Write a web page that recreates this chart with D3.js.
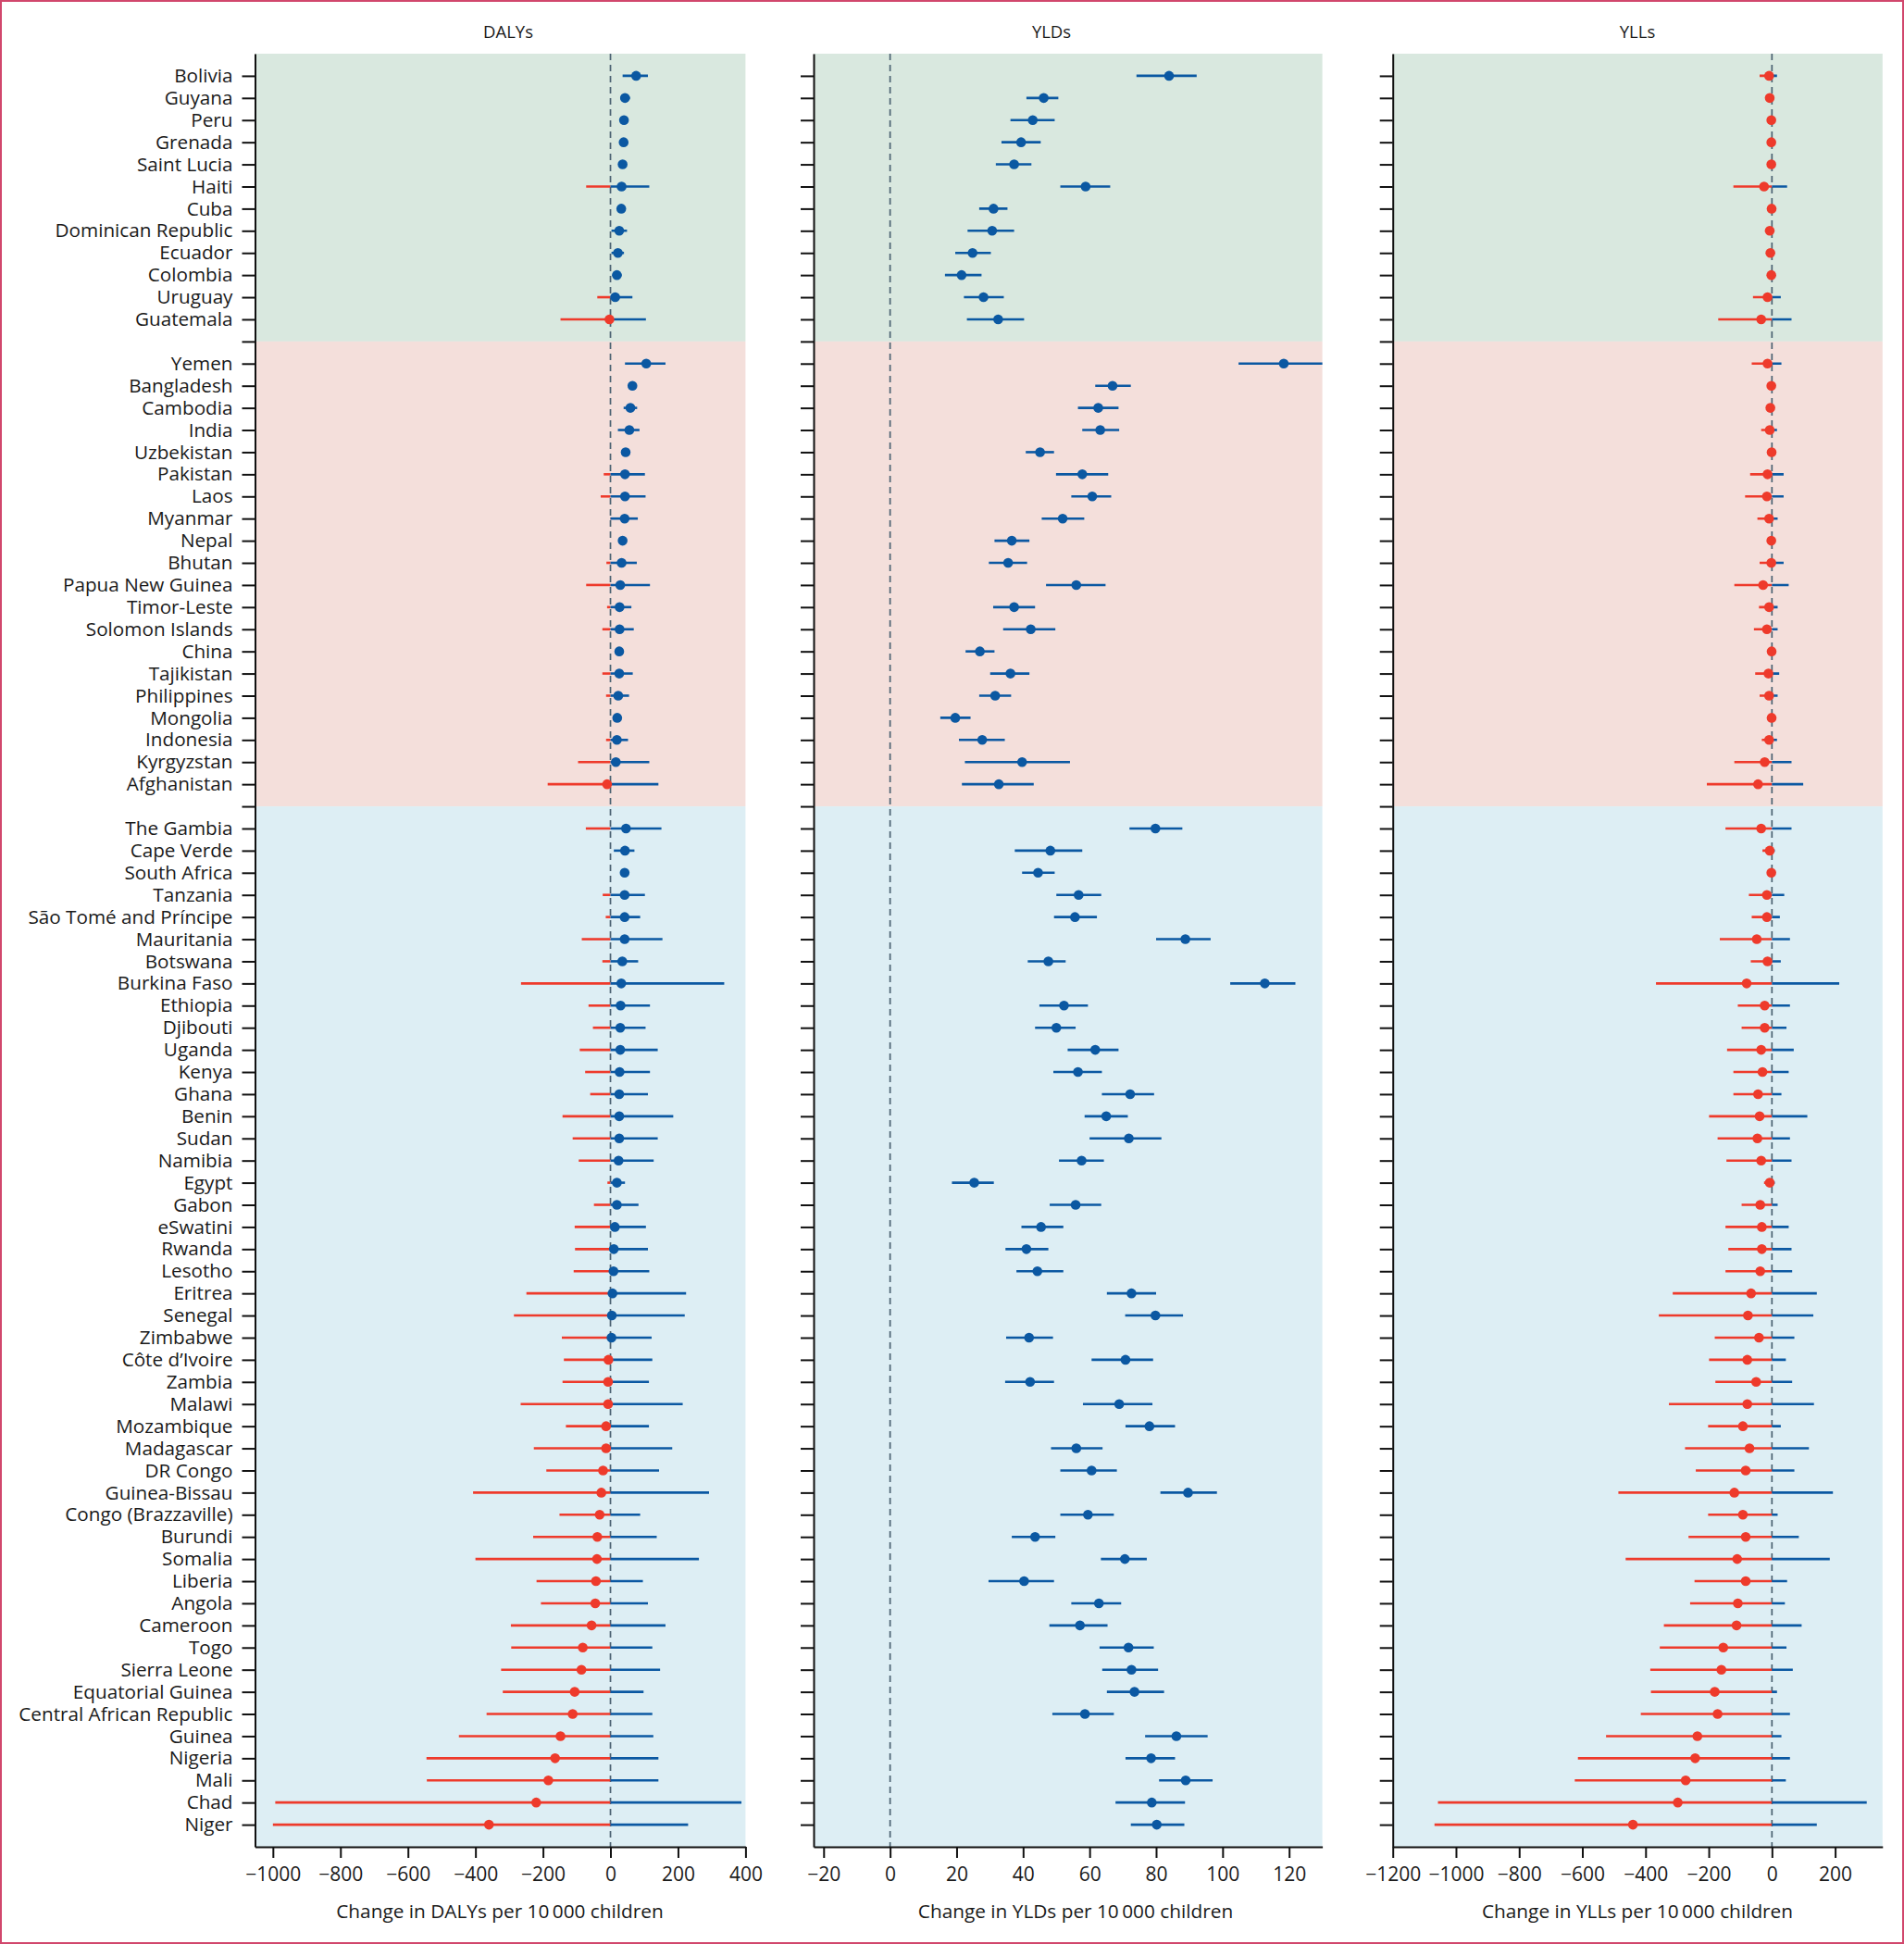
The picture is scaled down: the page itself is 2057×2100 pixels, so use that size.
<!DOCTYPE html>
<html>
<head>
<meta charset="utf-8">
<script src="https://cdnjs.cloudflare.com/ajax/libs/d3/7.8.5/d3.min.js"></script>
<style>
    body { margin: 0; background: #fff; }
    svg text { font-family: "Open Sans", sans-serif; fill: #1a1a1a; }
    .axis path, .axis line { stroke: #111; stroke-width: 2; }
    .axis text { font-size: 21px; }
    .y.axis text { font-size: 20.7px; }
</style>
</head>
<body>
<div id="chart"></div>
<script>
// Country groups, top to bottom
var latinAmerica = ["Bolivia", "Guyana", "Peru", "Grenada", "Saint Lucia", "Haiti", "Cuba",
    "Dominican Republic", "Ecuador", "Colombia", "Uruguay", "Guatemala"];
var asia = ["Yemen", "Bangladesh", "Cambodia", "India", "Uzbekistan", "Pakistan", "Laos", "Myanmar",
    "Nepal", "Bhutan", "Papua New Guinea", "Timor-Leste", "Solomon Islands", "China", "Tajikistan",
    "Philippines", "Mongolia", "Indonesia", "Kyrgyzstan", "Afghanistan"];
var africa = ["The Gambia", "Cape Verde", "South Africa", "Tanzania", "São Tomé and Príncipe",
    "Mauritania", "Botswana", "Burkina Faso", "Ethiopia", "Djibouti", "Uganda", "Kenya", "Ghana",
    "Benin", "Sudan", "Namibia", "Egypt", "Gabon", "eSwatini", "Rwanda", "Lesotho", "Eritrea",
    "Senegal", "Zimbabwe", "Côte d’Ivoire", "Zambia", "Malawi", "Mozambique", "Madagascar",
    "DR Congo", "Guinea-Bissau", "Congo (Brazzaville)", "Burundi", "Somalia", "Liberia", "Angola",
    "Cameroon", "Togo", "Sierra Leone", "Equatorial Guinea", "Central African Republic", "Guinea",
    "Nigeria", "Mali", "Chad", "Niger"];

// [estimate, lower, upper] per country, same order as above
var dalys = [
    [76, 36, 111], [43, 29, 58], [40, 32, 52], [39, 30, 49], [36, 27, 46], [33, -72, 115],
    [32, 23, 42], [26, 3, 49], [22, 3, 40], [19, 6, 33], [14, -39, 65], [-3, -148, 105],
    [106, 43, 163], [65, 55, 75], [59, 39, 79], [56, 22, 86], [45, 35, 55], [43, -20, 102],
    [43, -29, 104], [42, -1, 81], [36, 24, 47], [33, -12, 78], [29, -72, 117], [27, -10, 62],
    [27, -24, 69], [26, 16, 36], [26, -24, 66], [23, -13, 55], [20, 10, 30], [19, -13, 52],
    [16, -96, 115], [-10, -186, 142],
    [46, -73, 151], [43, 10, 71], [42, 32, 53], [42, -23, 102], [42, -14, 88], [42, -85, 154],
    [35, -24, 82], [32, -265, 337], [30, -65, 117], [29, -52, 104], [29, -91, 140], [27, -75, 117],
    [26, -60, 111], [26, -142, 186], [26, -112, 140], [24, -94, 128], [19, -9, 43], [19, -49, 83],
    [13, -106, 105], [10, -105, 111], [9, -109, 115], [6, -249, 224], [4, -286, 220],
    [3, -144, 122], [-6, -138, 124], [-7, -142, 114], [-7, -266, 214], [-13, -132, 114],
    [-13, -227, 183], [-22, -190, 144], [-27, -407, 292], [-32, -151, 88], [-39, -229, 137],
    [-40, -400, 262], [-43, -219, 96], [-45, -206, 111], [-56, -295, 163], [-82, -294, 124],
    [-86, -324, 147], [-106, -319, 98], [-112, -367, 124], [-148, -449, 127], [-164, -545, 142],
    [-184, -544, 142], [-220, -993, 388], [-360, -1000, 230]
];
var ylds = [
    [83.9, 74.1, 92.2], [46.2, 41.0, 50.6], [42.9, 36.2, 49.5], [39.4, 33.5, 45.3],
    [37.3, 31.8, 42.5], [58.8, 51.2, 66.2], [31.1, 26.8, 35.3], [30.7, 23.3, 37.3],
    [24.8, 19.6, 30.3], [21.5, 16.5, 27.5], [28.1, 22.2, 34.2], [32.5, 23.1, 40.3],
    [118.4, 104.8, 136], [66.9, 61.7, 72.4], [62.6, 56.5, 68.7], [63.2, 57.8, 68.9],
    [45.1, 40.8, 49.3], [57.8, 49.9, 65.6], [60.8, 54.5, 66.5], [51.9, 45.6, 58.4],
    [36.6, 31.4, 41.9], [35.5, 29.7, 41.2], [56.0, 46.9, 64.8], [37.3, 31.0, 43.6],
    [42.3, 34.0, 49.7], [27.0, 22.7, 31.4], [36.2, 30.1, 41.9], [31.6, 26.8, 36.4],
    [19.6, 15.1, 24.2], [27.7, 20.7, 34.5], [39.7, 22.5, 54.1], [32.7, 21.6, 43.2],
    [79.8, 72.0, 87.9], [48.2, 37.5, 57.8], [44.5, 39.7, 49.5], [56.7, 50.0, 63.5],
    [55.6, 49.3, 62.2], [88.8, 80.0, 96.4], [47.6, 41.4, 52.8], [112.7, 102.3, 121.9],
    [52.3, 44.9, 59.5], [50.0, 43.6, 55.8], [61.7, 53.4, 68.7], [56.5, 49.1, 63.7],
    [72.2, 63.7, 79.4], [65.0, 58.5, 71.5], [71.8, 60.0, 81.6], [57.6, 50.8, 64.3],
    [25.3, 18.6, 31.2], [55.8, 48.0, 63.5], [45.4, 39.5, 52.1], [41.0, 34.7, 47.6],
    [44.3, 38.0, 52.1], [72.6, 65.2, 80.0], [79.8, 70.7, 88.1],
    [41.8, 34.9, 49.0], [70.8, 60.6, 79.1], [42.1, 34.6, 49.3], [68.9, 58.0, 78.9],
    [78.0, 70.8, 85.7], [56.0, 48.4, 63.9], [60.6, 51.2, 68.2], [89.6, 81.3, 98.3],
    [59.5, 51.2, 67.3], [43.6, 36.6, 49.7], [70.6, 63.4, 77.2], [40.3, 29.6, 49.3],
    [62.8, 54.5, 69.5], [57.1, 47.9, 65.4], [71.7, 63.0, 79.3], [72.6, 63.8, 80.6],
    [73.5, 65.2, 82.4], [58.6, 48.8, 67.3], [86.1, 76.7, 95.5], [78.5, 70.8, 85.7],
    [88.9, 80.9, 97.0], [78.7, 67.8, 88.7], [80.2, 72.4, 88.5]
];
var ylls = [
    [-9, -39, 16], [-7, -18, 5], [-2, -8, 3], [-2, -7, 2], [-2, -7, 2], [-25, -122, 48],
    [-1, -5, 3], [-7, -21, 5], [-5, -16, 7], [-2, -7, 2], [-14, -60, 28], [-34, -170, 62],
    [-14, -64, 30], [-2, -7, 2], [-5, -16, 7], [-7, -34, 16], [-1, -4, 3], [-14, -69, 37],
    [-16, -85, 37], [-9, -46, 18], [-2, -6, 2], [-2, -39, 37], [-28, -119, 53], [-9, -41, 18],
    [-16, -57, 18], [-1, -4, 2], [-11, -53, 23], [-9, -39, 18], [-1, -4, 2], [-9, -32, 16],
    [-23, -119, 62], [-44, -206, 99],
    [-34, -147, 62], [-7, -30, 9], [-2, -6, 2], [-16, -73, 39], [-16, -64, 25], [-48, -165, 57],
    [-14, -67, 28], [-80, -367, 213], [-23, -108, 57], [-23, -96, 46], [-34, -142, 69],
    [-30, -122, 53], [-44, -122, 30], [-39, -199, 112], [-46, -172, 57], [-34, -144, 62],
    [-7, -25, 9], [-37, -96, 18], [-32, -147, 53], [-32, -138, 62], [-37, -147, 64],
    [-66, -314, 142], [-76, -358, 131],
    [-41, -181, 71], [-78, -199, 44], [-50, -179, 64], [-78, -326, 133], [-92, -202, 28],
    [-71, -275, 117], [-83, -241, 71], [-119, -486, 193], [-92, -202, 18], [-83, -264, 85],
    [-110, -463, 183], [-83, -245, 48], [-108, -259, 41], [-112, -342, 94], [-154, -355, 46],
    [-160, -385, 66], [-181, -383, 16], [-172, -415, 57], [-236, -525, 30], [-243, -614, 57],
    [-273, -624, 44], [-298, -1057, 300], [-440, -1068, 142]
];

var dalyTicks = [-1000, -800, -600, -400, -200, 0, 200, 400];
var yldTicks = [-20, 0, 20, 40, 60, 80, 100, 120];
var yllTicks = [-1200, -1000, -800, -600, -400, -200, 0, 200];

var countries = latinAmerica.concat(asia, africa);
var slots = latinAmerica.concat(["gap1"], asia, ["gap2"], africa);

var blue = "#0b58a2", red = "#ee3a2b";
var plotTop = 58, plotBottom = 1995;

var panels = [
    {title: "DALYs", data: dalys, domain: [-1053, 400], range: [275.5, 805.4], ticks: dalyTicks,
     titleX: 549, labelX: 540, label: "Change in DALYs per 10\u2009000 children", names: true},
    {title: "YLDs", data: ylds, domain: [-23, 130], range: [879, 1428.6], ticks: yldTicks,
     titleX: 1136, labelX: 1162, label: "Change in YLDs per 10\u2009000 children", names: false},
    {title: "YLLs", data: ylls, domain: [-1200, 350], range: [1504.7, 2033.8], ticks: yllTicks,
     titleX: 1769, labelX: 1769, label: "Change in YLLs per 10\u2009000 children", names: false}
];

var svg = d3.select("#chart")
    .append("svg")
    .attr("width", 2057)
    .attr("height", 2100);

svg.append("rect")
    .attr("x", 1).attr("y", 1)
    .attr("width", 2055).attr("height", 2098)
    .attr("fill", "none")
    .attr("stroke", "#d1476c")
    .attr("stroke-width", 2);

var yScale = d3.scalePoint()
    .domain(slots)
    .range([plotTop, plotBottom])
    .padding(1);

var bands = [
    {y0: plotTop, y1: yScale("gap1"), color: "#d9e8df"},
    {y0: yScale("gap1"), y1: yScale("gap2"), color: "#f4dfdb"},
    {y0: yScale("gap2"), y1: plotBottom, color: "#ddeef4"}
];

var rows = countries.map((c, i) => ({name: c, i: i}));

panels.forEach(function(p, k) {
    var xScale = d3.scaleLinear().domain(p.domain).range(p.range);
    var g = svg.append("g");

    g.append("clipPath")
        .attr("id", "clip" + k)
        .append("rect")
        .attr("x", p.range[0]).attr("y", plotTop)
        .attr("width", p.range[1] - p.range[0]).attr("height", plotBottom - plotTop);

    // Region backgrounds
    g.selectAll("rect.band")
        .data(bands)
        .enter().append("rect")
        .attr("class", "band")
        .attr("x", p.range[0])
        .attr("y", d => d.y0)
        .attr("width", p.range[1] - p.range[0])
        .attr("height", d => d.y1 - d.y0)
        .attr("fill", d => d.color);

    // Zero reference
    g.append("line")
        .attr("x1", xScale(0)).attr("x2", xScale(0))
        .attr("y1", plotTop).attr("y2", plotBottom)
        .attr("stroke", "#4c6272")
        .attr("stroke-width", 1.7)
        .attr("stroke-dasharray", "7,5");

    var marks = g.append("g").attr("clip-path", "url(#clip" + k + ")");

    // Interval: red part below zero, blue part above
    marks.selectAll("line.neg")
        .data(rows.filter(r => p.data[r.i][1] < 0))
        .enter().append("line")
        .attr("class", "neg")
        .attr("x1", r => xScale(p.data[r.i][1]))
        .attr("x2", r => xScale(Math.min(0, p.data[r.i][2])))
        .attr("y1", r => yScale(r.name))
        .attr("y2", r => yScale(r.name))
        .attr("stroke", red)
        .attr("stroke-width", 2.6);

    marks.selectAll("line.pos")
        .data(rows.filter(r => p.data[r.i][2] > 0))
        .enter().append("line")
        .attr("class", "pos")
        .attr("x1", r => xScale(Math.max(0, p.data[r.i][1])))
        .attr("x2", r => xScale(p.data[r.i][2]))
        .attr("y1", r => yScale(r.name))
        .attr("y2", r => yScale(r.name))
        .attr("stroke", blue)
        .attr("stroke-width", 2.6);

    marks.selectAll("circle")
        .data(rows)
        .enter().append("circle")
        .attr("cx", r => xScale(p.data[r.i][0]))
        .attr("cy", r => yScale(r.name))
        .attr("r", 5.3)
        .attr("fill", r => p.data[r.i][0] < 0 ? red : blue);

    // Y axis
    g.append("g")
        .attr("class", "y axis")
        .attr("transform", "translate(" + p.range[0] + ",0)")
        .call(d3.axisLeft(yScale)
              .tickSize(14)
              .tickSizeOuter(0)
              .tickPadding(10)
              .tickFormat(d => (p.names && d.indexOf("gap") !== 0) ? d : ""));

    // X axis
    g.append("g")
        .attr("class", "x axis")
        .attr("transform", "translate(0," + plotBottom + ")")
        .call(d3.axisBottom(xScale)
              .tickValues(p.ticks)
              .tickSize(12)
              .tickSizeOuter(0)
              .tickPadding(10)
              .tickFormat(d3.format("d")));

    g.selectAll(".axis text").attr("fill", "#1a1a1a");

    g.append("text")
        .attr("x", p.titleX)
        .attr("y", 35)
        .attr("dy", "0.35em")
        .attr("text-anchor", "middle")
        .style("font-size", "18.5px")
        .text(p.title);

    g.append("text")
        .attr("x", p.labelX)
        .attr("y", 2065)
        .attr("dy", "0.35em")
        .attr("text-anchor", "middle")
        .style("font-size", "20.8px")
        .text(p.label);
});
</script>
</body>
</html>
